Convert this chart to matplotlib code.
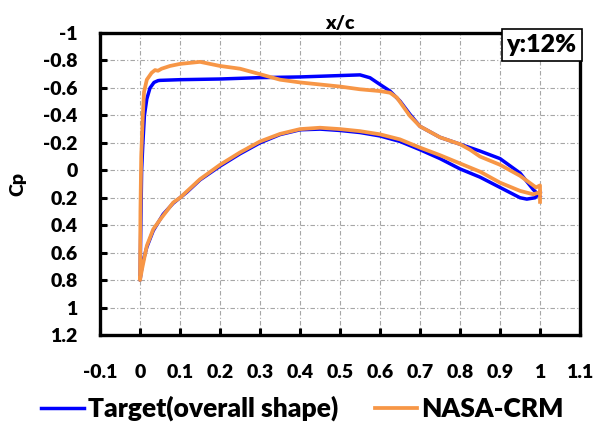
import matplotlib
matplotlib.use("Agg")
import matplotlib.pyplot as plt
from matplotlib.ticker import MultipleLocator, FuncFormatter

plt.rcParams['font.family'] = ['Lato', 'DejaVu Sans']
plt.rcParams['font.weight'] = 'heavy'
plt.rcParams['axes.unicode_minus'] = False

# Target (overall shape): upper and lower surface, leading edge -> trailing edge
target_upper_x = [0, 0.002, 0.004, 0.007, 0.011, 0.017, 0.025, 0.035, 0.045, 0.05, 0.1, 0.2, 0.3,
                  0.4, 0.5, 0.55, 0.575, 0.6, 0.625, 0.65, 0.675, 0.7, 0.75, 0.8, 0.85, 0.9, 0.95,
                  0.983, 1.0]
target_upper_cp = [0.8, 0.4, 0.0, -0.19, -0.40, -0.52, -0.60, -0.64, -0.653, -0.655, -0.66, -0.665,
                   -0.675, -0.68, -0.69, -0.695, -0.674, -0.625, -0.577, -0.504, -0.407, -0.32,
                   -0.24, -0.19, -0.14, -0.085, 0.02, 0.14, 0.19]
target_lower_x = [0, 0.006, 0.017, 0.033, 0.058, 0.083, 0.1, 0.117, 0.15, 0.2, 0.25, 0.3, 0.35,
                  0.4, 0.45, 0.5, 0.55, 0.6, 0.65, 0.7, 0.75, 0.8, 0.85, 0.9, 0.95, 0.967, 0.988, 1.0]
target_lower_cp = [0.8, 0.68, 0.56, 0.44, 0.32, 0.24, 0.2, 0.16, 0.07, -0.03, -0.12, -0.2, -0.26,
                   -0.295, -0.30, -0.29, -0.275, -0.25, -0.21, -0.15, -0.085, -0.01, 0.05, 0.125,
                   0.2, 0.21, 0.2, 0.16]

# NASA-CRM
crm_upper_x = [0, 0.001, 0.003, 0.005, 0.007, 0.01, 0.017, 0.029, 0.0375, 0.045, 0.054, 0.075,
               0.1, 0.15, 0.2, 0.25, 0.3, 0.35, 0.4, 0.45, 0.5, 0.55, 0.6, 0.625, 0.642, 0.675,
               0.7, 0.75, 0.8, 0.825, 0.85, 0.9, 0.95, 0.99, 1.0, 1.0]
crm_upper_cp = [0.8, 0.3, -0.1, -0.25, -0.40, -0.57, -0.66, -0.71, -0.73, -0.725, -0.74, -0.76,
                -0.775, -0.79, -0.76, -0.74, -0.70, -0.66, -0.64, -0.625, -0.61, -0.59, -0.577,
                -0.565, -0.53, -0.395, -0.32, -0.24, -0.19, -0.15, -0.10, -0.04, 0.04, 0.125,
                0.11, 0.23]
crm_lower_x = [0, 0.005, 0.017, 0.033, 0.05, 0.083, 0.1, 0.15, 0.2, 0.25, 0.3, 0.35, 0.4, 0.45,
               0.5, 0.55, 0.6, 0.65, 0.7, 0.75, 0.8, 0.85, 0.9, 0.95, 0.983, 1.0]
crm_lower_cp = [0.8, 0.72, 0.55, 0.43, 0.36, 0.235, 0.2, 0.065, -0.04, -0.13, -0.21, -0.265,
                -0.3, -0.31, -0.3, -0.285, -0.262, -0.225, -0.165, -0.11, -0.05, 0.01, 0.09,
                0.15, 0.175, 0.16]


def loop(ux, ucp, lx, lcp):
    # trailing edge (lower) -> leading edge -> trailing edge (upper)
    return lx[::-1] + ux, lcp[::-1] + ucp


def fmt(v, pos):
    return '%g' % round(v, 2) if abs(v) > 1e-9 else '0'


fig = plt.figure(figsize=(6.11, 4.26), dpi=100)
ax = fig.add_axes([0.1637, 0.2136, 0.7856, 0.7089])

tx, tcp = loop(target_upper_x, target_upper_cp, target_lower_x, target_lower_cp)
cx, ccp = loop(crm_upper_x, crm_upper_cp, crm_lower_x, crm_lower_cp)
ax.plot(tx, tcp, color='#0000FF', lw=2.5, label='Target(overall shape)', zorder=3)
ax.plot(cx, ccp, color='#F79646', lw=2.7, label='NASA-CRM', zorder=4)

ax.set_xlim(-0.1, 1.1)
ax.set_ylim(1.2, -1)
ax.xaxis.set_major_locator(MultipleLocator(0.1))
ax.yaxis.set_major_locator(MultipleLocator(0.2))
ax.xaxis.set_major_formatter(FuncFormatter(fmt))
ax.yaxis.set_major_formatter(FuncFormatter(fmt))
ax.grid(True, color='#A6A6A6', lw=0.8, linestyle=(0, (4, 2, 1, 2)))
ax.set_axisbelow(True)

for s in ax.spines.values():
    s.set_linewidth(2.4)
ax.tick_params(axis='both', direction='in', length=5, width=2.2, labelsize=14)
ax.tick_params(axis='x', pad=21)
ax.tick_params(axis='y', pad=16)
for lab in ax.get_xticklabels() + ax.get_yticklabels():
    lab.set_fontweight('heavy')

ax.set_title('x/c', fontsize=14, fontweight='heavy', pad=3)
ax.set_ylabel('Cp', fontsize=14, fontweight='heavy', labelpad=12)

ax.text(0.993, 0.996, 'y:12%', transform=ax.transAxes, ha='right', va='top',
        fontsize=18, fontweight='heavy', zorder=6,
        bbox=dict(boxstyle='square,pad=0.2', facecolor='white', edgecolor='black', lw=1.2))

fig.legend(loc='lower center', bbox_to_anchor=(0.495, -0.045), ncol=2, frameon=False,
           prop={'size': 19, 'weight': 'heavy'}, handlelength=1.6, handletextpad=0.15,
           columnspacing=1.4)

fig.savefig('out.png', dpi=100)
